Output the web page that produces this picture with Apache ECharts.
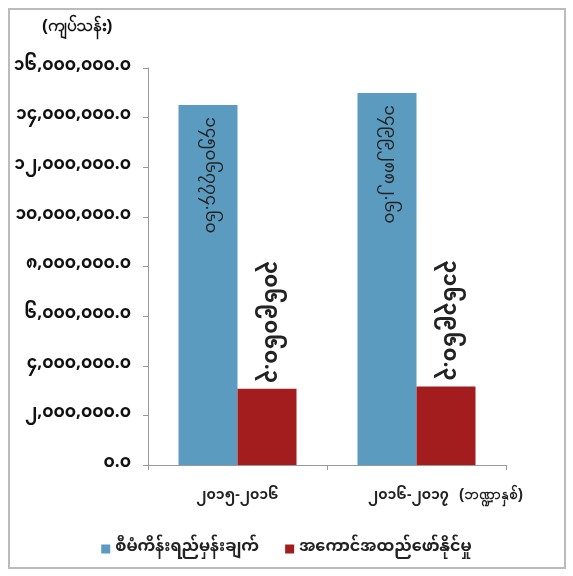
<!DOCTYPE html>
<html>
<head>
<meta charset="utf-8">
<script src="https://cdn.jsdelivr.net/npm/echarts@6/dist/echarts.min.js"></script>
<style>
html,body{margin:0;padding:0;background:#fff;}
#c{width:573px;height:576px;}
</style>
</head>
<body>
<div id="c"></div>
<script>
const categories = ['၂၀၁၅-၂၀၁၆', '၂၀၁၆-၂၀၁၇'];
const seriesNames = ['စီမံကိန်းရည်မှန်းချက်', 'အကောင်အထည်ဖော်နိုင်မှု'];
const planValues = [14506774.60, 14992882.60];
const actualValues = [3069060.3, 3163960.3];
const unitLabel = '(ကျပ်သန်း)';
const periodLabel = '(ဘဏ္ဍာနှစ်)';

const MY_DIGITS = ['၀','၁','၂','၃','၄','၅','၆','၇','၈','၉'];
function toMy(s) { return String(s).replace(/[0-9]/g, d => MY_DIGITS[+d]); }
function fmtAxis(v) {
  if (v === 0) return toMy('0.0');
  return toMy(v.toLocaleString('en-US') + '.0');
}
const FONT = '"Noto Sans Myanmar", "Padauk", "Myanmar Text", "Noto Sans", sans-serif';

const chart = echarts.init(document.getElementById('c'));
chart.setOption({
  backgroundColor: '#fff',
  animation: false,
  textStyle: { fontFamily: FONT },
  grid: { left: 148, right: 67, top: 68, bottom: 111, containLabel: false },
  legend: {
    data: seriesNames,
    top: 536,
    left: 'center',
    itemWidth: 9,
    itemHeight: 9,
    itemGap: 26,
    icon: 'rect',
    textStyle: { fontSize: 16, fontWeight: 'bold', color: '#222', fontFamily: FONT }
  },
  xAxis: {
    type: 'category',
    data: categories,
    axisLine: { lineStyle: { color: '#999' } },
    axisTick: { show: true, length: 5, lineStyle: { color: '#999' } },
    axisLabel: {
      margin: 26, fontSize: 14, fontWeight: 'bold', color: '#222', fontFamily: FONT,
      formatter: (v, i) => i === 1 ? '{s|' + v + '}' : v,
      rich: { s: { fontSize: 14, fontWeight: 'bold', color: '#222', fontFamily: FONT, padding: [0, 16, 0, 0] } }
    }
  },
  yAxis: {
    type: 'value',
    min: 0,
    max: 16000000,
    interval: 2000000,
    splitLine: { show: false },
    axisLine: { show: true, lineStyle: { color: '#999' } },
    axisTick: { show: true, length: 5, lineStyle: { color: '#999' } },
    axisLabel: { margin: 17, fontSize: 17, fontWeight: 'bold', color: '#111', formatter: fmtAxis, fontFamily: FONT }
  },
  series: [
    {
      name: seriesNames[0],
      type: 'bar',
      data: planValues,
      barWidth: 59,
      barGap: '0%',
      itemStyle: { color: '#5b9bbf' },
      label: {
        show: true,
        position: 'insideTop',
        rotate: -90,
        align: 'left',
        verticalAlign: 'middle',
        distance: 12,
        fontSize: 17,
        color: '#222',
        fontFamily: FONT,
        formatter: p => toMy(p.value.toFixed(2))
      }
    },
    {
      name: seriesNames[1],
      type: 'bar',
      data: actualValues,
      barWidth: 59,
      itemStyle: { color: '#a31d1f' },
      label: {
        show: true,
        position: 'top',
        rotate: -90,
        align: 'right',
        verticalAlign: 'middle',
        distance: 6,
        fontSize: 21,
        fontWeight: 'bold',
        color: '#222',
        fontFamily: FONT,
        formatter: p => toMy(p.value.toFixed(1))
      }
    }
  ],
  graphic: [
    { type: 'rect', shape: { x: 9, y: 9, width: 556, height: 559 }, style: { fill: 'none', stroke: '#bbb', lineWidth: 2 } },
    { type: 'text', left: 42, top: 18, style: { text: unitLabel, fontSize: 17, fontWeight: 'bold', fill: '#111', font: 'bold 17px ' + FONT } },
    { type: 'text', left: 459, top: 487, style: { text: periodLabel, fontSize: 15, fontWeight: 'bold', fill: '#222', font: 'bold 15px ' + FONT } }
  ]
});
</script>
</body>
</html>
